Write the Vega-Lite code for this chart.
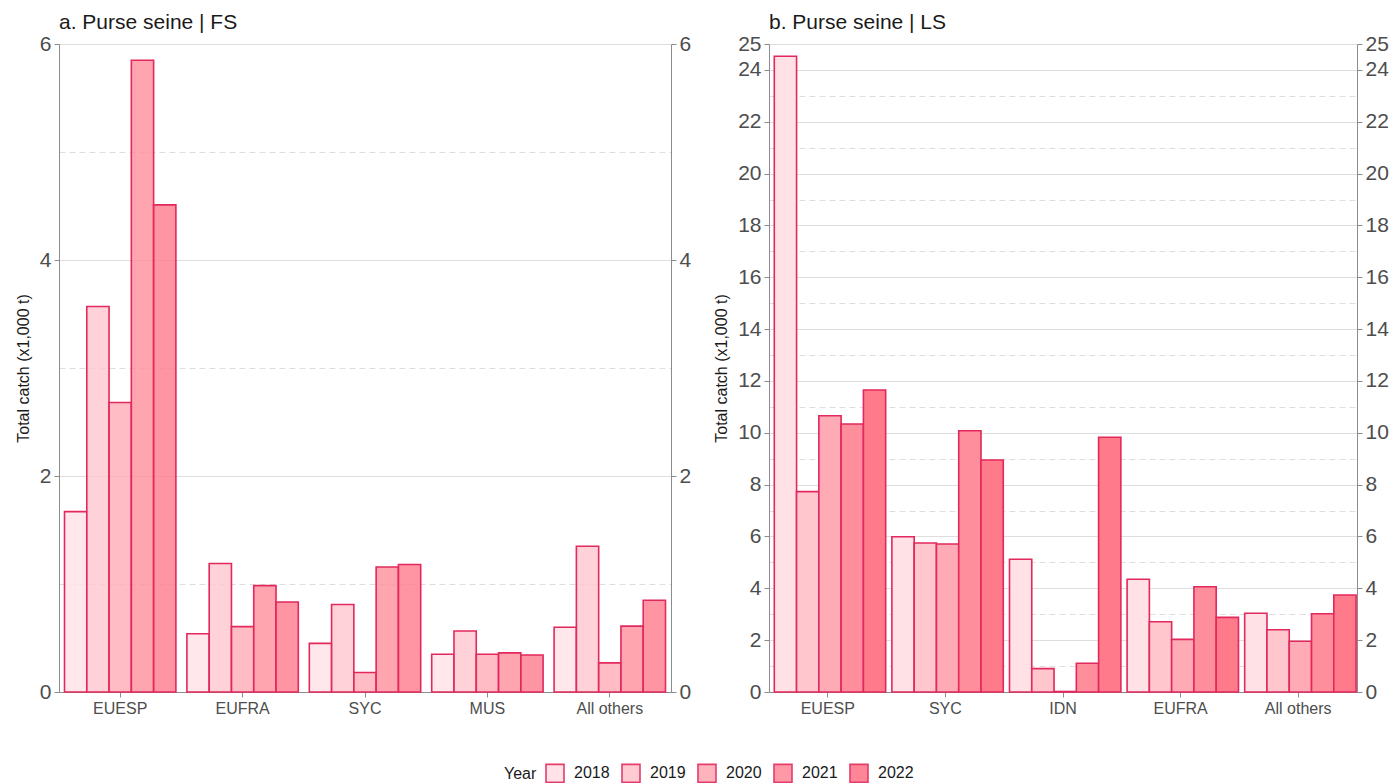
{
  "$schema": "https://vega.github.io/schema/vega-lite/v6.json",
  "padding": {"left": 15, "top": 12, "right": 0, "bottom": 0},
  "background": "white",
  "datasets": {
    "fs": [
      {"fleet": "EUESP", "year": "2018", "catch": 1.67},
      {"fleet": "EUESP", "year": "2019", "catch": 3.57},
      {"fleet": "EUESP", "year": "2020", "catch": 2.68},
      {"fleet": "EUESP", "year": "2021", "catch": 5.85},
      {"fleet": "EUESP", "year": "2022", "catch": 4.51},
      {"fleet": "EUFRA", "year": "2018", "catch": 0.54},
      {"fleet": "EUFRA", "year": "2019", "catch": 1.19},
      {"fleet": "EUFRA", "year": "2020", "catch": 0.605},
      {"fleet": "EUFRA", "year": "2021", "catch": 0.985},
      {"fleet": "EUFRA", "year": "2022", "catch": 0.833},
      {"fleet": "SYC", "year": "2018", "catch": 0.45},
      {"fleet": "SYC", "year": "2019", "catch": 0.81},
      {"fleet": "SYC", "year": "2020", "catch": 0.18},
      {"fleet": "SYC", "year": "2021", "catch": 1.157},
      {"fleet": "SYC", "year": "2022", "catch": 1.18},
      {"fleet": "MUS", "year": "2018", "catch": 0.35},
      {"fleet": "MUS", "year": "2019", "catch": 0.565},
      {"fleet": "MUS", "year": "2020", "catch": 0.35},
      {"fleet": "MUS", "year": "2021", "catch": 0.362},
      {"fleet": "MUS", "year": "2022", "catch": 0.343},
      {"fleet": "All others", "year": "2018", "catch": 0.6},
      {"fleet": "All others", "year": "2019", "catch": 1.35},
      {"fleet": "All others", "year": "2020", "catch": 0.27},
      {"fleet": "All others", "year": "2021", "catch": 0.61},
      {"fleet": "All others", "year": "2022", "catch": 0.85}
    ],
    "ls": [
      {"fleet": "EUESP", "year": "2018", "catch": 24.53},
      {"fleet": "EUESP", "year": "2019", "catch": 7.73},
      {"fleet": "EUESP", "year": "2020", "catch": 10.66},
      {"fleet": "EUESP", "year": "2021", "catch": 10.34},
      {"fleet": "EUESP", "year": "2022", "catch": 11.65},
      {"fleet": "SYC", "year": "2018", "catch": 5.99},
      {"fleet": "SYC", "year": "2019", "catch": 5.75},
      {"fleet": "SYC", "year": "2020", "catch": 5.71},
      {"fleet": "SYC", "year": "2021", "catch": 10.08},
      {"fleet": "SYC", "year": "2022", "catch": 8.95},
      {"fleet": "IDN", "year": "2018", "catch": 5.12},
      {"fleet": "IDN", "year": "2019", "catch": 0.9},
      {"fleet": "IDN", "year": "2020", "catch": 0.02},
      {"fleet": "IDN", "year": "2021", "catch": 1.11},
      {"fleet": "IDN", "year": "2022", "catch": 9.83},
      {"fleet": "EUFRA", "year": "2018", "catch": 4.35},
      {"fleet": "EUFRA", "year": "2019", "catch": 2.71},
      {"fleet": "EUFRA", "year": "2020", "catch": 2.03},
      {"fleet": "EUFRA", "year": "2021", "catch": 4.06},
      {"fleet": "EUFRA", "year": "2022", "catch": 2.88},
      {"fleet": "All others", "year": "2018", "catch": 3.04},
      {"fleet": "All others", "year": "2019", "catch": 2.4},
      {"fleet": "All others", "year": "2020", "catch": 1.96},
      {"fleet": "All others", "year": "2021", "catch": 3.02},
      {"fleet": "All others", "year": "2022", "catch": 3.74}
    ]
  },
  "bounds": "flush",
  "spacing": 98,
  "resolve": {"scale": {"color": "independent"}, "legend": {"color": "independent"}},
  "hconcat": [
    {
      "width": 612,
      "height": 648,
      "data": {"name": "fs"},
      "title": {"text": "a. Purse seine | FS", "anchor": "start", "frame": "group", "fontSize": 21, "fontWeight": "normal", "color": "#1A1A1A", "offset": 0},
      "encoding": {
        "x": {"field": "fleet", "type": "nominal", "sort": ["EUESP", "EUFRA", "SYC", "MUS", "All others"],
              "scale": {"paddingInner": 0.09, "paddingOuter": 0.045},
              "axis": {"title": null, "labelAngle": 0}},
        "xOffset": {"field": "year", "type": "nominal", "scale": {"paddingInner": 0, "paddingOuter": 0}},
        "color": {"field": "year", "type": "nominal",
                  "scale": {"domain": ["2018", "2019", "2020", "2021", "2022"], "range": ["#FFE1E6", "#FFC6CE", "#FFABB6", "#FF8E9C", "#FF7A8B"]},
                  "legend": {"title": "Year", "orient": "none", "direction": "horizontal", "legendX": 445, "legendY": 719, "padding": 0}}
      },
      "layer": [
        {
          "mark": {"type": "bar", "stroke": "#E2285C", "strokeWidth": 1.6, "fillOpacity": 0.8},
          "encoding": {
            "y": {"field": "catch", "type": "quantitative",
                  "scale": {"domain": [0, 6], "nice": false},
                  "axis": {"title": "Total catch (x1,000 t)", "values": [0, 1, 2, 3, 4, 5, 6], "grid": true,
                           "labelExpr": "datum.value % 2 === 1 ? '' : datum.label",
                           "gridDash": {"condition": {"test": "datum.value % 2 === 1", "value": [6, 4]}, "value": []},
                           "tickOpacity": {"condition": {"test": "datum.value % 2 === 1", "value": 0}, "value": 1}}}
          }
        },
        {
          "mark": {"type": "bar", "opacity": 0},
          "encoding": {
            "y": {"field": "catch", "type": "quantitative",
                  "scale": {"domain": [0, 6], "nice": false},
                  "axis": {"orient": "right", "title": null, "values": [0, 2, 4, 6], "grid": false}}
          }
        }
      ],
      "resolve": {"scale": {"y": "independent"}}
    },
    {
      "width": 588,
      "height": 648,
      "data": {"name": "ls"},
      "title": {"text": "b. Purse seine | LS", "anchor": "start", "frame": "group", "fontSize": 21, "fontWeight": "normal", "color": "#1A1A1A", "offset": 0},
      "encoding": {
        "x": {"field": "fleet", "type": "nominal", "sort": ["EUESP", "SYC", "IDN", "EUFRA", "All others"],
              "scale": {"paddingInner": 0.09, "paddingOuter": 0.045},
              "axis": {"title": null, "labelAngle": 0}},
        "xOffset": {"field": "year", "type": "nominal", "scale": {"paddingInner": 0, "paddingOuter": 0}},
        "color": {"field": "year", "type": "nominal", "legend": null,
                  "scale": {"domain": ["2018", "2019", "2020", "2021", "2022"], "range": ["#FFE1E6", "#FFC6CE", "#FFABB6", "#FF8E9C", "#FF7A8B"]}}
      },
      "layer": [
        {
          "mark": {"type": "bar", "stroke": "#E2285C", "strokeWidth": 1.6},
          "encoding": {
            "y": {"field": "catch", "type": "quantitative",
                  "scale": {"domain": [0, 25], "nice": false},
                  "axis": {"title": "Total catch (x1,000 t)", "values": [0, 1, 2, 3, 4, 5, 6, 7, 8, 9, 10, 11, 12, 13, 14, 15, 16, 17, 18, 19, 20, 21, 22, 23, 24, 25], "grid": true,
                           "labelExpr": "(datum.value % 2 === 1 && datum.value < 25) ? '' : datum.label",
                           "gridDash": {"condition": {"test": "datum.value % 2 === 1 && datum.value < 25", "value": [6, 4]}, "value": []},
                           "tickOpacity": {"condition": {"test": "datum.value % 2 === 1 && datum.value < 25", "value": 0}, "value": 1}}}
          }
        },
        {
          "mark": {"type": "bar", "opacity": 0},
          "encoding": {
            "y": {"field": "catch", "type": "quantitative",
                  "scale": {"domain": [0, 25], "nice": false},
                  "axis": {"orient": "right", "title": null, "values": [0, 2, 4, 6, 8, 10, 12, 14, 16, 18, 20, 22, 24, 25], "grid": false}}
          }
        }
      ],
      "resolve": {"scale": {"y": "independent"}}
    }
  ],
  "config": {
    "font": "Liberation Sans",
    "view": {"stroke": null},
    "axis": {
      "domainColor": "#8C8C8C",
      "tickColor": "#8C8C8C",
      "tickSize": 5,
      "labelPadding": 3,
      "labelColor": "#4D4D4D",
      "gridColor": "#DEDEDE",
      "gridWidth": 1,
      "titleFontWeight": "normal",
      "titleColor": "#1A1A1A",
      "titleFontSize": 16,
      "titlePadding": 8
    },
    "axisX": {"labelFontSize": 16, "grid": false},
    "axisY": {"labelFontSize": 21},
    "legend": {
      "titleOrient": "left",
      "titleFontSize": 16,
      "titleFontWeight": "normal",
      "titleColor": "#1A1A1A",
      "titlePadding": 8,
      "labelFontSize": 16,
      "labelColor": "#1A1A1A",
      "labelOffset": 9,
      "columnPadding": 8,
      "symbolType": "square",
      "symbolSize": 324,
      "symbolStrokeColor": "#E2285C",
      "symbolStrokeWidth": 1.6,
      "symbolOpacity": 0.9
    }
  }
}
